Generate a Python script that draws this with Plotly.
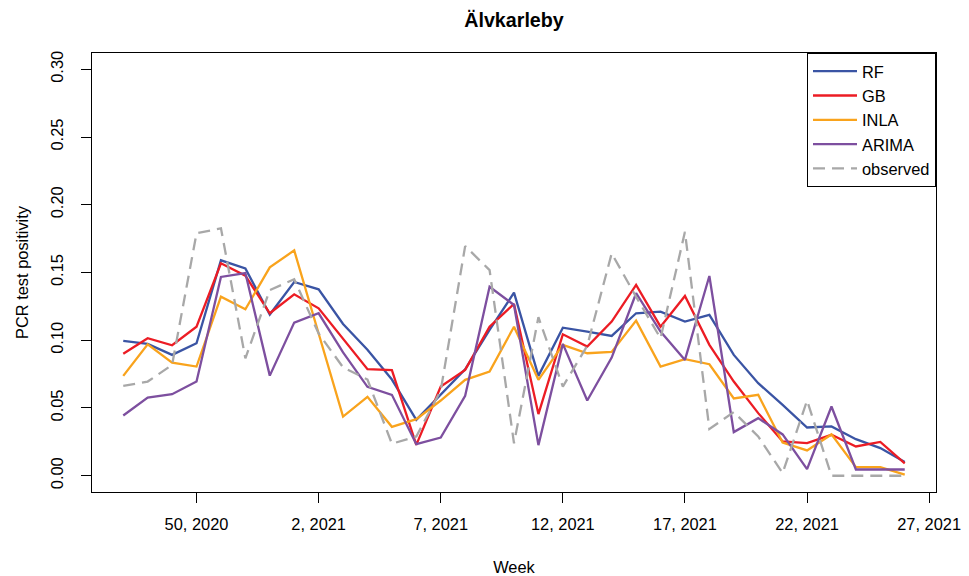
import plotly.graph_objects as go

# Weekly index: 0 = week 47, 2020 ... 32 = week 26, 2021
week_index = list(range(33))
tick_index = [3, 8, 13, 18, 23, 28, 33]
tick_labels = ["50, 2020", "2, 2021", "7, 2021", "12, 2021", "17, 2021", "22, 2021", "27, 2021"]
y_ticks = [0.00, 0.05, 0.10, 0.15, 0.20, 0.25, 0.30]

rf = [0.0995, 0.0973, 0.0892, 0.0978, 0.1590, 0.1530, 0.1190, 0.1430, 0.1376, 0.1120,
      0.0930, 0.0710, 0.0413, 0.0600, 0.0786, 0.1076, 0.1351, 0.0737, 0.1093, 0.1064,
      0.1032, 0.1199, 0.1211, 0.1138, 0.1187, 0.0892, 0.0683, 0.0523, 0.0356, 0.0364,
      0.0270, 0.0204, 0.0102]
gb = [0.0900, 0.1015, 0.0963, 0.1100, 0.1568, 0.1477, 0.1199, 0.1339, 0.1236, 0.1012,
      0.0786, 0.0779, 0.0228, 0.0658, 0.0781, 0.1100, 0.1268, 0.0455, 0.1044, 0.0953,
      0.1138, 0.1408, 0.1100, 0.1327, 0.0966, 0.0695, 0.0462, 0.0253, 0.0241, 0.0302,
      0.0216, 0.0250, 0.0092]
inla = [0.0737, 0.0970, 0.0835, 0.0806, 0.1322, 0.1229, 0.1538, 0.1663, 0.1050, 0.0437,
        0.0582, 0.0361, 0.0418, 0.0555, 0.0708, 0.0769, 0.1100, 0.0708, 0.0966, 0.0904,
        0.0914, 0.1145, 0.0806, 0.0860, 0.0823, 0.0570, 0.0597, 0.0245, 0.0187, 0.0305,
        0.0063, 0.0063, 0.0008]
arima = [0.0445, 0.0577, 0.0602, 0.0695, 0.1467, 0.1496, 0.0739, 0.1130, 0.1199, 0.0910,
         0.0656, 0.0597, 0.0233, 0.0282, 0.0590, 0.1395, 0.1260, 0.0226, 0.0973, 0.0555,
         0.0872, 0.1347, 0.1064, 0.0855, 0.1474, 0.0322, 0.0425, 0.0305, 0.0049, 0.0511,
         0.0046, 0.0046, 0.0046]
observed = [0.0663, 0.0695, 0.0818, 0.1789, 0.1826, 0.0867, 0.1370, 0.1450, 0.1050, 0.0800,
            0.0710, 0.0236, 0.0290, 0.0630, 0.1695, 0.1518, 0.0240, 0.1170, 0.0658, 0.0960,
            0.1641, 0.1320, 0.1015, 0.1800, 0.0345, 0.0470, 0.0290, 0.0020, 0.0555, 0.0000,
            0.0000, 0.0000, 0.0000]

series = [
    ("RF", rf, "#3a54a4", "solid"),
    ("GB", gb, "#ec1c24", "solid"),
    ("INLA", inla, "#f9a31c", "solid"),
    ("ARIMA", arima, "#7d4f9f", "solid"),
    ("observed", observed, "#a8a8a8", "12px,7px"),
]

fig = go.Figure()
for name, values, color, dash in series:
    fig.add_trace(go.Scatter(
        x=week_index, y=values, mode="lines", name=name,
        line=dict(color=color, width=2.3, dash=dash),
    ))

font_family = "Liberation Sans, Arial, Helvetica, sans-serif"
base_size = 16.4

fig.update_layout(
    template="none",
    width=969, height=576,
    margin=dict(l=92, r=33, t=53, b=84, autoexpand=False),
    paper_bgcolor="white", plot_bgcolor="white",
    font=dict(family=font_family, size=base_size, color="black"),
    title=dict(text="<b>Älvkarleby</b>", x=0.5, xref="paper", xanchor="center",
               y=1 - 20.5 / 576, yref="container", yanchor="middle",
               font=dict(size=19.7, color="black")),
    showlegend=True,
    legend=dict(x=1, y=1, xanchor="right", yanchor="top",
                bordercolor="black", borderwidth=1, bgcolor="white",
                font=dict(size=base_size), tracegroupgap=0, itemwidth=44),
)

fig.update_xaxes(
    automargin=False,
    range=[-1.28, 33.28], tickmode="array", tickvals=tick_index, ticktext=tick_labels,
    showline=True, linecolor="black", linewidth=1, mirror=True,
    ticks="outside", ticklen=10, tickwidth=1, tickcolor="black",
    showgrid=False, zeroline=False, ticklabelstandoff=7,
    title=dict(text="Week", standoff=30, font=dict(size=base_size)),
)
fig.update_yaxes(
    automargin=False,
    range=[-0.012, 0.312], tickmode="array", tickvals=y_ticks,
    tickformat=".2f", tickangle=-90,
    showline=True, linecolor="black", linewidth=1, mirror=True,
    ticks="outside", ticklen=10, tickwidth=1, tickcolor="black",
    showgrid=False, zeroline=False, ticklabelstandoff=11,
    title=dict(text="PCR test positivity", standoff=15, font=dict(size=base_size)),
)

fig.write_html("out.html")
